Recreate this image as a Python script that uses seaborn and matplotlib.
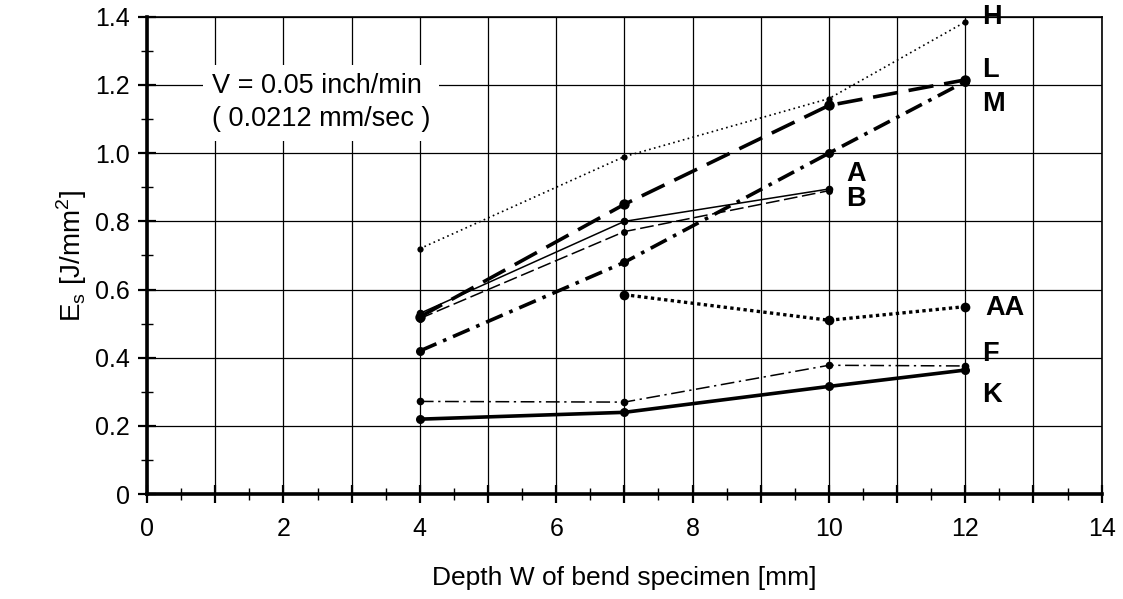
import matplotlib
matplotlib.use("Agg")
from matplotlib import pyplot as plt
from matplotlib.ticker import MultipleLocator, FuncFormatter
import seaborn as sns
import pandas as pd

# depth W [mm] and specific energy Es [J/mm^2] for each specimen series
depth_4 = [4, 7, 10, 12]
depth_3 = [4, 7, 10]
depth_aa = [7, 10, 12]

es_H = [0.72, 0.99, 1.16, 1.385]
es_L = [0.52, 0.85, 1.14, 1.215]
es_M = [0.42, 0.68, 1.00, 1.21]
es_A = [0.53, 0.80, 0.895]
es_B = [0.515, 0.77, 0.89]
es_AA = [0.585, 0.51, 0.55]
es_F = [0.272, 0.27, 0.378, 0.376]
es_K = [0.22, 0.24, 0.316, 0.364]

series_names = ["H", "L", "M", "A", "B", "AA", "F", "K"]
label_pos = {"H": (12.25, 1.40), "L": (12.25, 1.245), "M": (12.25, 1.145),
             "A": (10.25, 0.94), "B": (10.25, 0.865), "AA": (12.3, 0.545),
             "F": (12.25, 0.41), "K": (12.25, 0.29)}

sns.set_style("white")
plt.rcParams['font.family'] = ['Liberation Sans', 'DejaVu Sans']
plt.rcParams.update({"text.color": "black", "axes.labelcolor": "black",
                     "xtick.color": "black", "ytick.color": "black"})

fig = plt.figure(figsize=(11.23, 5.99), dpi=100)
ax = fig.add_axes([0.131, 0.175, 0.85, 0.797])

styles = {
    "H": dict(x=depth_4, y=es_H, ls=(0, (1, 2)), lw=1.2, ms=4.5),
    "L": dict(x=depth_4, y=es_L, ls=(0, (7, 3)), lw=2.6, ms=7.5),
    "M": dict(x=depth_4, y=es_M, ls=(0, (5, 2, 1, 2)), lw=2.6, ms=6.5),
    "A": dict(x=depth_3, y=es_A, ls="-", lw=1.1, ms=5.5),
    "B": dict(x=depth_3, y=es_B, ls=(0, (9, 3)), lw=1.1, ms=5),
    "AA": dict(x=depth_aa, y=es_AA, ls=(0, (1, 1)), lw=2.4, ms=7),
    "F": dict(x=depth_4, y=es_F, ls=(0, (9, 3, 1.5, 3)), lw=1.1, ms=5.5),
    "K": dict(x=depth_4, y=es_K, ls="-", lw=2.6, ms=6.5),
}

for name in series_names:
    s = styles[name]
    df = pd.DataFrame({"W": s["x"], "Es": s["y"]})
    sns.lineplot(data=df, x="W", y="Es", ax=ax, color="black", lw=s["lw"],
                 linestyle=s["ls"], marker="o", markersize=s["ms"],
                 markeredgewidth=0, zorder=3)
    lx, ly = label_pos[name]
    ax.text(lx, ly, name, fontsize=19.5, fontweight="bold", va="center", ha="left")

ax.set_xlim(0, 14)
ax.set_ylim(0, 1.4)
ax.xaxis.set_major_locator(MultipleLocator(1))
ax.xaxis.set_minor_locator(MultipleLocator(0.5))
ax.yaxis.set_major_locator(MultipleLocator(0.2))
ax.yaxis.set_minor_locator(MultipleLocator(0.1))
ax.xaxis.set_major_formatter(FuncFormatter(lambda v, p: f"{int(round(v))}" if round(v) % 2 == 0 else ""))
ax.yaxis.set_major_formatter(FuncFormatter(lambda v, p: "0" if abs(v) < 1e-9 else f"{v:.1f}"))
ax.grid(True, which="major", color="black", lw=0.9)
ax.tick_params(which="both", bottom=True, left=True, top=False, right=False)
ax.tick_params(which="major", direction="inout", length=13, width=1.6, labelsize=18)
ax.tick_params(which="minor", direction="inout", length=9, width=1.0)
ax.tick_params(axis="x", pad=10)
ax.tick_params(axis="y", pad=6)
for side in ["left", "bottom"]:
    ax.spines[side].set_linewidth(2.6)
for side in ["top", "right"]:
    ax.spines[side].set_linewidth(1.2)
for sp in ax.spines.values():
    sp.set_color("black")

ax.set_xlabel("Depth W of bend specimen [mm]", fontsize=19, labelpad=18)
ax.set_ylabel(r"E$_\mathregular{s}$ [J/mm$^\mathregular{2}$]", fontsize=20, labelpad=4)

ax.text(0.95, 1.148, "V = 0.05 inch/min\n( 0.0212 mm/sec )", fontsize=19.5,
        va="center", ha="left", linespacing=1.35,
        bbox=dict(facecolor="white", edgecolor="none", pad=6), zorder=4)

plt.savefig("out.png", dpi=100)
